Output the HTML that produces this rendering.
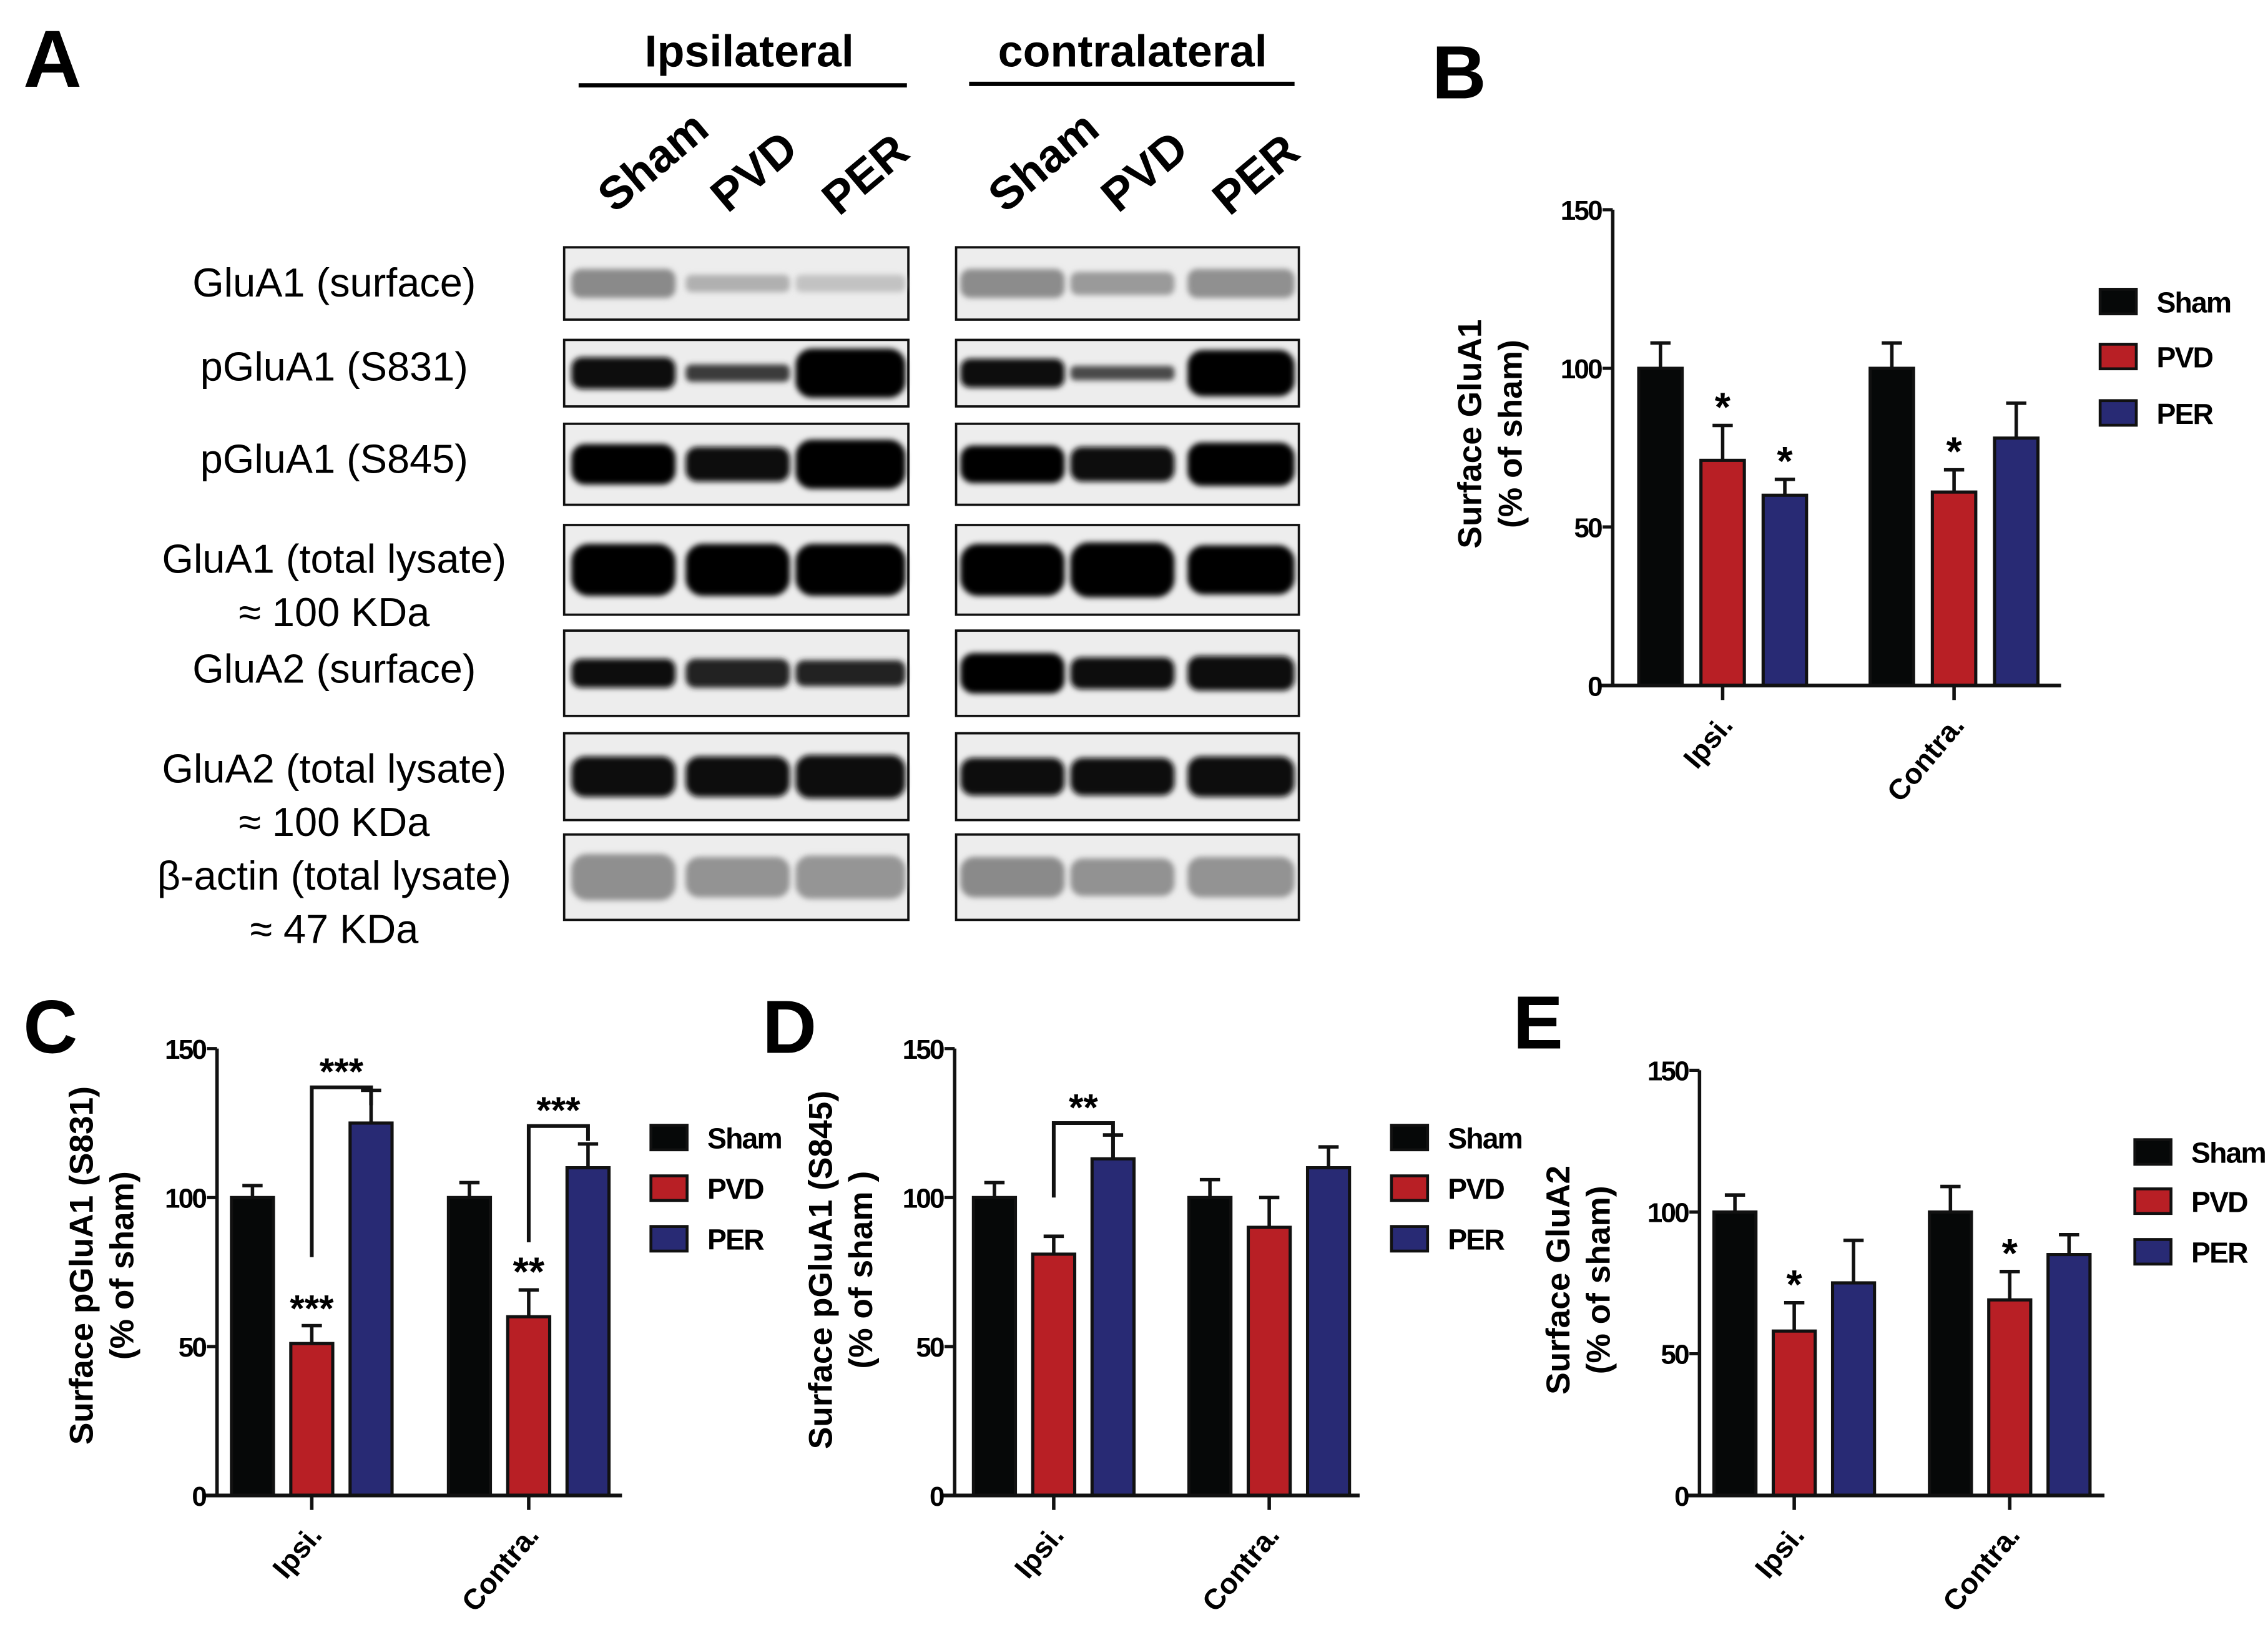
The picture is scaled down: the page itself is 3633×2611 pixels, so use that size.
<!DOCTYPE html>
<html><head><meta charset="utf-8">
<style>
html,body{margin:0;padding:0;background:#fff;}
svg{display:block;}
text{font-family:"Liberation Sans",sans-serif;}
</style></head>
<body>
<svg id="fig" width="3633" height="2611" viewBox="0 0 1568 1127" xmlns="http://www.w3.org/2000/svg">
<defs>
<filter id="blur" x="-20%" y="-50%" width="140%" height="200%"><feGaussianBlur stdDeviation="2"/></filter>
</defs>
<g id="panelA">
<text x="16" y="60" font-size="56" font-weight="bold">A</text>
<text x="518" y="46" font-size="31" font-weight="bold" text-anchor="middle">Ipsilateral</text>
<line x1="400" y1="59" x2="627" y2="59" stroke="#000" stroke-width="3"/>
<text x="783" y="46" font-size="31" font-weight="bold" text-anchor="middle">contralateral</text>
<line x1="670" y1="58" x2="895" y2="58" stroke="#000" stroke-width="3"/>
<g id="laneLabels" font-size="32" font-weight="bold"></g>
<g id="blots"></g>
<g id="rowLabels" font-size="28" text-anchor="middle"></g>
</g>
<g id="charts"></g>
</svg>
<script>
const NS='http://www.w3.org/2000/svg';
function mk(tag,attrs,parent,txt){const e=document.createElementNS(NS,tag);for(const k in attrs)e.setAttribute(k,attrs[k]);if(txt!==undefined)e.textContent=txt;parent.appendChild(e);return e;}

// ---------- Panel A ----------
const laneNames=['Sham','PVD','PER'];
const ll=document.getElementById('laneLabels');
[[425,148],[503,148],[580,150],[695,148],[773,148],[850,150]].forEach((p,i)=>{
  const t=mk('text',{x:p[0],y:p[1],transform:`rotate(-40 ${p[0]} ${p[1]})`},ll,laneNames[i%3]);
  
  
});
const rows=[
 {y:171,h:50,bh:[20,12,12],bh2:[20,16,20],colL:['#8a8a8a','#b0b0b0','#c2c2c2'],colR:['#8c8c8c','#9a9a9a','#909090']},
 {y:235,h:46,bh:[22,12,34],bh2:[20,10,32],colL:['#080808','#3a3a3a','#050505'],colR:['#080808','#4a4a4a','#050505']},
 {y:293,h:56,bh:[28,24,34],bh2:[26,24,30],colL:['#050505','#080808','#050505'],colR:['#050505','#080808','#050505']},
 {y:363,h:62,bh:[36,36,36],bh2:[36,38,34],colL:['#050505','#050505','#050505'],colR:['#050505','#050505','#050505']},
 {y:436,h:59,bh:[20,20,18],bh2:[28,22,24],colL:['#080808','#202020','#202020'],colR:['#050505','#101010','#080808']},
 {y:507,h:60,bh:[28,28,30],bh2:[26,26,28],colL:['#080808','#080808','#080808'],colR:['#080808','#080808','#080808']},
 {y:577,h:59,bh:[32,28,30],bh2:[28,26,28],colL:['#8f8f8f','#939393','#959595'],colR:['#8a8a8a','#929292','#939393']}
];
const lanesL=[431,510,588],lanesR=[700,776,858];
const bl=document.getElementById('blots');
rows.forEach((r,ri)=>{
  [[390,628,lanesL,r.bh,r.colL],[661,898,lanesR,r.bh2,r.colR]].forEach((s,si)=>{
    const g=mk('g',{},bl);
    
    
    mk('rect',{x:s[0],y:r.y,width:s[1]-s[0],height:r.h,fill:'#ededed',stroke:'#111','stroke-width':1.6},g);
    s[2].forEach((cx,li)=>{
      const bw=li==2?(si?74:76):72;
      mk('rect',{x:cx-bw/2,y:r.y+r.h/2-s[3][li]/2,width:bw,height:s[3][li],rx:s[3][li]/3,fill:s[4][li],filter:'url(#blur)'},g);
    });
  });
});
const rl=document.getElementById('rowLabels');
[['GluA1 (surface)',205],['pGluA1 (S831)',263],['pGluA1 (S845)',327],['GluA1 (total lysate)',396],['≈ 100 KDa',433],['GluA2 (surface)',472],['GluA2 (total lysate)',541],['≈ 100 KDa',578],['β-actin (total lysate)',615],['≈ 47 KDa',652]].forEach((l,i)=>{
  const t=mk('text',{x:231,y:l[1]},rl,l[0]);
  
  
});

// ---------- Bar charts data ----------
const categories=['Ipsi.','Contra.'];
const seriesNames=['Sham','PVD','PER'];
const tickLabels=[0,50,100,150];
const bMeans=[[100,71,60],[100,61,78]];
const bErr=[[8,11,5],[8,7,11]];
const bStars=[['','*','*'],['','*','']];
const cMeans=[[100,51,125],[100,60,110]];
const cErr=[[4,6,11],[5,9,8]];
const cStars=[['','***',''],['','**','']];
const dMeans=[[100,81,113],[100,90,110]];
const dErr=[[5,6,8],[6,10,7]];
const dStars=[['','',''],['','','']];
const eMeans=[[100,58,75],[100,69,85]];
const eErr=[[6,10,15],[9,10,7]];
const eStars=[['','*',''],['','*','']];
const colors=['#060808','#b81f25','#282a74'];

const panels=[
 {id:'b',label:'B',lx:990,ly:68,ax:1115,ay0:474,ay150:145,axEnd:1425,g0:1133,gap:160,step:43,bw:30,means:bMeans,err:bErr,stars:bStars,title:['Surface GluA1','(% of sham)'],tx:1024,ty:300,legX:1452,legY:[200,238,277],brackets:[]},
 {id:'c',label:'C',lx:16,ly:728,ax:150,ay0:1034,ay150:725,axEnd:430,g0:160,gap:150,step:41,bw:29,means:cMeans,err:cErr,stars:cStars,title:['Surface pGluA1 (S831)','(% of sham)'],tx:64,ty:875,legX:450,legY:[778,813,848],
   brackets:[{g:0,a:1,b:2,top:137,endA:80,endB:131},{g:1,a:1,b:2,top:124,endA:85,endB:119}]},
 {id:'d',label:'D',lx:527,ly:728,ax:660,ay0:1034,ay150:725,axEnd:940,g0:673,gap:149,step:41,bw:29,means:dMeans,err:dErr,stars:dStars,title:['Surface pGluA1 (S845)','(% of sham )'],tx:575,ty:878,legX:962,legY:[778,813,848],
   brackets:[{g:0,a:1,b:2,top:125,endA:100,endB:113}]},
 {id:'e',label:'E',lx:1046,ly:725,ax:1175,ay0:1034,ay150:740,axEnd:1455,g0:1185,gap:149,step:41,bw:29,means:eMeans,err:eErr,stars:eStars,title:['Surface GluA2','(% of sham)'],tx:1085,ty:885,legX:1476,legY:[788,822,857],brackets:[]}
];
const charts=document.getElementById('charts');
panels.forEach(p=>{
  const g=mk('g',{},charts);
  
  
  const yS=v=>p.ay0-(v/150)*(p.ay0-p.ay150);
  const lab=mk('text',{x:p.lx,y:p.ly,'font-size':52,'font-weight':'bold'},g,p.label);
  
  
  p.means.forEach((grp,gi)=>{
    grp.forEach((v,si)=>{
      const x=p.g0+gi*p.gap+si*p.step;
      const cx=x+p.bw/2;
      const top=yS(v+p.err[gi][si]);
      const eb=mk('path',{d:`M${cx},${yS(v)}V${top}M${cx-7},${top}H${cx+7}`,stroke:'#111','stroke-width':2.4,fill:'none'},g);
      
      
      const r=mk('rect',{x:x,y:yS(v),width:p.bw,height:yS(0)-yS(v),fill:colors[si],stroke:'#111','stroke-width':2.2},g);
      
      
      const st=p.stars[gi][si];
      if(st){const t=mk('text',{x:cx,y:top-3,'font-size':st.length>2?26:28,'font-weight':'bold','text-anchor':'middle'},g,st);
        
        }
    });
    const tcx=p.g0+gi*p.gap+p.step+p.bw/2;
    mk('line',{x1:tcx,y1:p.ay0,x2:tcx,y2:p.ay0+10,stroke:'#111','stroke-width':2.4},g);
    const xl=mk('text',{x:tcx+8,y:p.ay0+28,'font-size':20,'font-weight':'bold','text-anchor':'end',transform:`rotate(-50 ${tcx+8} ${p.ay0+28})`},g,categories[gi]);
    
    
  });
  p.brackets.forEach(b=>{
    const xa=p.g0+b.g*p.gap+b.a*p.step+p.bw/2, xb=p.g0+b.g*p.gap+b.b*p.step+p.bw/2;
    const yt=yS(b.top);
    const br=mk('path',{d:`M${xa},${yS(b.endA)}V${yt}H${xb}V${yS(b.endB)}`,stroke:'#111','stroke-width':2.6,fill:'none'},g);
    
    
    const t=mk('text',{x:(xa+xb)/2,y:yt-2,'font-size':26,'font-weight':'bold','text-anchor':'middle'},g,p.id==='d'?'**':'***');
    
    
  });
  const ya=mk('line',{x1:p.ax,y1:p.ay0,x2:p.ax,y2:p.ay150,stroke:'#111','stroke-width':2.4},g);
  
  
  const xa=mk('line',{x1:p.ax-8,y1:p.ay0,x2:p.axEnd,y2:p.ay0,stroke:'#111','stroke-width':2.6},g);
  
  
  tickLabels.forEach(v=>{
    mk('line',{x1:p.ax-7,y1:yS(v),x2:p.ax,y2:yS(v),stroke:'#111','stroke-width':2.2},g);
    const t=mk('text',{x:p.ax-8,y:yS(v)+7,'font-size':19,'font-weight':'bold','text-anchor':'end','letter-spacing':'-1.2'},g,v);
    
    
  });
  p.title.forEach((s,i)=>{
    const x=p.tx+i*28;
    const t=mk('text',{x:x,y:p.ty,'font-size':23,'font-weight':'bold','text-anchor':'middle',transform:`rotate(-90 ${x} ${p.ty})`},g,s);
    
    
  });
  seriesNames.forEach((n,i)=>{
    const lg=mk('g',{},g);
    
    
    mk('rect',{x:p.legX,y:p.legY[i],width:25,height:17,fill:colors[i],stroke:'#111','stroke-width':2},lg);
    mk('text',{x:p.legX+39,y:p.legY[i]+16,'font-size':20,'font-weight':'bold','letter-spacing':'-0.8'},lg,n);
  });
});
</script>
</body></html>
